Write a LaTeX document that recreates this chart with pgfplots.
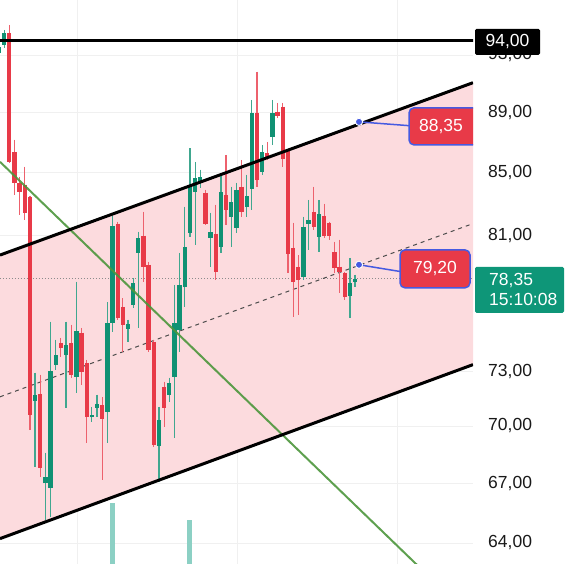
\documentclass[border=0pt]{standalone}
\usepackage{pgfplots}
\pgfplotsset{compat=1.18}
\usepackage{fontspec}
\setmainfont{Liberation Sans}
\definecolor{cred}{RGB}{232,58,72}
\definecolor{cgreen}{RGB}{16,145,115}
\definecolor{cpink}{RGB}{252,219,222}
\definecolor{cline}{RGB}{76,150,60}
\definecolor{cblue}{RGB}{70,90,225}
\definecolor{cvol}{RGB}{140,208,196}
\definecolor{cbox}{RGB}{14,150,120}
\newcommand{\lab}{\fontsize{17.5}{20}\selectfont}
% candle macros: x, open, high, low, close
\newcommand{\up}[5]{%
 \addplot[cgreen!80!white, line width=1.2pt, forget plot] coordinates {(#1,#3) (#1,#4)};
 \addplot[cgreen, line width=4.3pt, forget plot] coordinates {(#1,#2) (#1,#5)};}
\newcommand{\dn}[5]{%
 \addplot[cred!80!white, line width=1.2pt, forget plot] coordinates {(#1,#3) (#1,#4)};
 \addplot[cred, line width=4.3pt, forget plot] coordinates {(#1,#2) (#1,#5)};}
\begin{document}
\begin{tikzpicture}
\begin{axis}[
 scale only axis, width=473pt, height=564pt,
 at={(0,0)}, anchor=south west,
 xmin=0, xmax=473, ymin=62.98, ymax=97.0, ymode=log,
 axis line style={draw=none},
 major tick length=0pt,
 xtick={77,237,397}, xticklabels={},
 ytick={64,67,70,73,77,81,85,89,93},
 yticklabels={{64,00},{67,00},{70,00},{73,00},{},{81,00},{85,00},{89,00},{93,00}},
 yticklabel pos=right,
 yticklabel style={anchor=west, inner sep=0pt, xshift=15pt, font=\lab, text=black!90},
 xmajorgrids, ymajorgrids,
 grid style={draw=black!6, line width=0.8pt},
 clip mode=individual,
]
% channel fill
\addplot[fill=cpink, draw=none, forget plot] coordinates {(0,79.80) (473,91.04) (473,73.36) (0,64.21)} -- cycle;
% volume bars
\addplot[cvol, line width=5pt, forget plot] coordinates {(112.5,62.98) (112.5,66.0)};
\addplot[cvol, line width=5pt, forget plot] coordinates {(189.9,62.98) (189.9,65.15)};
% last price dotted line
\addplot[black!45, dotted, line width=1pt, forget plot] coordinates {(0,78.35) (475,78.35)};
% channel middle
\addplot[black!70, dash pattern=on 4pt off 4pt, line width=1pt, forget plot] coordinates {(0,71.58) (473,81.73)};
% candles
\up{-1.0}{93.14}{93.78}{92.93}{93.57}
\up{4.2}{93.71}{94.80}{93.49}{94.58}
\dn{9.3}{94.58}{95.16}{85.60}{85.69}
\dn{14.5}{86.34}{87.15}{83.55}{84.33}
\dn{19.6}{84.33}{84.72}{82.29}{83.75}
\dn{24.8}{84.20}{85.37}{81.98}{82.42}
\dn{30.0}{83.42}{83.50}{69.80}{70.61}
\up{35.1}{71.36}{72.92}{67.85}{71.69}
\dn{40.3}{71.74}{72.81}{67.29}{67.80}
\up{45.4}{66.98}{68.58}{65.15}{67.29}
\up{50.6}{66.77}{75.82}{65.30}{73.03}
\up{55.8}{73.36}{74.78}{73.08}{73.92}
\dn{60.9}{74.60}{74.89}{73.81}{74.31}
\up{66.1}{73.92}{75.82}{70.98}{74.49}
\dn{71.2}{74.60}{75.65}{72.64}{72.81}
\up{76.4}{72.69}{78.17}{71.80}{75.30}
\dn{81.6}{75.18}{75.47}{72.25}{72.97}
\dn{86.7}{73.47}{73.64}{69.11}{70.45}
\up{91.9}{70.45}{71.03}{70.23}{70.61}
\up{97.0}{70.98}{71.69}{70.50}{71.20}
\dn{102.2}{71.14}{71.58}{67.18}{70.39}
\up{107.4}{70.77}{76.97}{69.11}{75.76}
\up{112.5}{75.76}{82.23}{75.24}{81.60}
\dn{117.7}{81.73}{81.85}{75.93}{76.05}
\dn{122.8}{76.69}{77.21}{74.09}{75.65}
\up{128.0}{75.41}{75.93}{74.66}{75.70}
\up{133.2}{76.80}{78.41}{76.63}{78.11}
\up{138.3}{79.92}{81.23}{75.47}{80.85}
\dn{143.5}{80.98}{82.48}{78.17}{79.08}
\dn{148.6}{79.20}{79.38}{74.09}{74.20}
\dn{153.8}{74.66}{74.78}{68.89}{69.00}
\up{159.0}{68.94}{71.03}{67.08}{70.34}
\dn{164.1}{72.14}{72.41}{69.96}{70.98}
\up{169.3}{71.69}{72.64}{71.30}{72.36}
\up{174.4}{72.69}{77.99}{69.37}{75.76}
\up{179.6}{75.36}{79.92}{74.09}{77.99}
\up{184.8}{77.87}{82.79}{76.69}{80.29}
\up{189.9}{81.16}{86.60}{80.91}{84.20}
\up{195.1}{83.75}{85.69}{80.41}{84.66}
\up{200.2}{84.46}{85.17}{84.01}{84.72}
\dn{205.4}{83.68}{83.88}{81.66}{81.73}
\up{210.6}{80.85}{82.42}{79.08}{81.23}
\dn{215.7}{81.10}{82.92}{78.29}{78.78}
\up{220.9}{80.29}{84.85}{79.92}{83.75}
\dn{226.0}{83.55}{86.15}{81.66}{82.60}
\up{231.2}{82.17}{84.07}{80.29}{83.10}
\up{236.4}{81.48}{84.33}{81.16}{83.88}
\dn{241.5}{84.07}{85.82}{82.17}{82.48}
\up{246.7}{82.79}{84.85}{82.17}{83.49}
\up{251.8}{83.94}{89.85}{82.60}{88.97}
\dn{257.0}{88.97}{91.81}{84.07}{84.53}
\up{262.2}{85.04}{86.81}{84.85}{86.34}
\dn{267.3}{86.28}{87.01}{85.82}{85.95}
\up{272.5}{87.35}{89.85}{86.81}{88.97}
\dn{277.6}{89.04}{89.65}{88.64}{88.77}
\dn{282.8}{89.38}{89.65}{85.37}{85.89}
\dn{288.0}{86.47}{86.50}{78.72}{79.86}
\dn{293.1}{80.23}{81.79}{76.11}{78.17}
\dn{298.3}{79.08}{79.80}{76.22}{78.29}
\up{303.4}{78.47}{82.17}{78.29}{81.54}
\up{308.6}{81.73}{83.23}{80.10}{81.98}
\dn{313.8}{82.48}{84.07}{81.35}{81.54}
\up{318.9}{80.91}{83.23}{79.98}{82.35}
\dn{324.1}{82.23}{82.98}{80.85}{80.98}
\dn{329.2}{81.79}{81.85}{80.73}{80.98}
\dn{334.4}{79.98}{80.60}{78.72}{79.02}
\dn{339.6}{79.08}{80.73}{77.51}{78.78}
\dn{344.7}{78.72}{78.78}{77.09}{77.27}
\up{349.9}{77.33}{79.62}{76.05}{78.11}
\up{355.0}{78.17}{78.60}{77.87}{78.35}
% green trend line
\addplot[cline, line width=2pt, opacity=0.9, forget plot] coordinates {(0,85.69) (425,62.56)};
% channel bounds
\addplot[black, line width=3pt, forget plot] coordinates {(0,79.80) (473,91.04)};
\addplot[black, line width=3pt, forget plot] coordinates {(0,64.21) (473,73.36)};
% 94 level
\addplot[black, line width=3pt, forget plot] coordinates {(0,94) (475,94)};
% connectors and points
\addplot[cblue, line width=1.5pt, forget plot] coordinates {(359,88.35) (410,88.09)};
\addplot[cblue, line width=1.5pt, forget plot] coordinates {(359,79.20) (401,78.78)};
\addplot[only marks, mark=*, mark size=3.6pt, mark options={fill=cblue, draw=white, line width=0.9pt}, forget plot] coordinates {(359,88.35) (359,79.20)};
% anchors for labels
\coordinate (r1) at (axis cs:473,89.31);
\coordinate (r2) at (axis cs:409,89.31);
\coordinate (r3) at (axis cs:409,86.81);
\coordinate (r4) at (axis cs:473,86.81);
\coordinate (t88) at (axis cs:441,88.02);
\coordinate (b79) at (axis cs:435,78.96);
\coordinate (b94) at (axis cs:507.5,93.93);
\coordinate (b78) at (axis cs:519.5,77.69);
\coordinate (t78) at (axis cs:489,77.69);
\end{axis}
\filldraw[fill=cred, draw=cblue, line width=1.5pt, rounded corners=5pt] (r1) -- (r2) -- (r3) -- (r4);
\node[text=white, font=\lab, inner sep=0pt] at (t88) {88,35};
\node[fill=cred, draw=cblue, line width=1.5pt, rounded corners=5pt, minimum width=70pt, minimum height=38pt, inner sep=0pt, text=white, font=\lab] at (b79) {79,20};
\node[fill=black, rounded corners=1.5pt, minimum width=65pt, minimum height=26pt, inner sep=0pt, text=white, font=\lab] at (b94) {94,00};
\node[fill=cbox, rounded corners=1.5pt, minimum width=89pt, minimum height=46pt, inner sep=0pt] at (b78) {};
\node[anchor=west, align=left, text=white, font=\lab, inner sep=0pt] at (t78) {78,35\\15:10:08};
\pgfresetboundingbox
\path[use as bounding box] (0,0) rectangle (571pt,564pt);
\end{tikzpicture}
\end{document}
